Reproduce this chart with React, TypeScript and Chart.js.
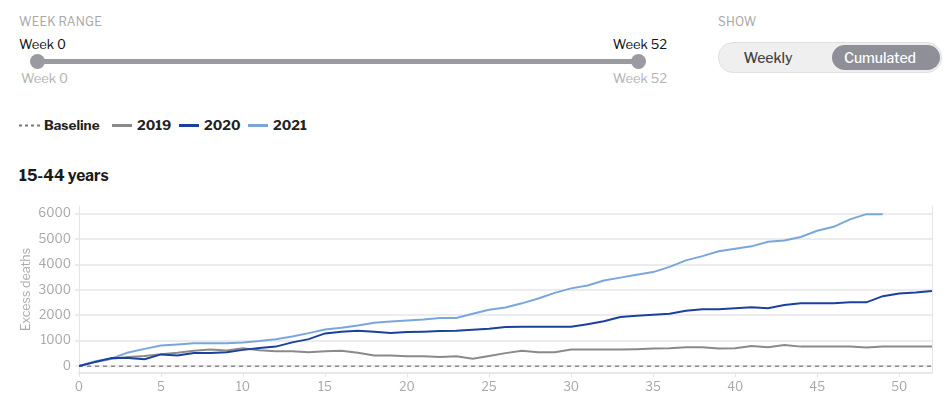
import React, { useEffect, useRef } from "react";
import { Chart, registerables } from "chart.js";

Chart.register(...registerables);

const weeks = [0,1,2,3,4,5,6,7,8,9,10,11,12,13,14,15,16,17,18,19,20,21,22,23,24,25,26,27,28,29,30,31,32,33,34,35,36,37,38,39,40,41,42,43,44,45,46,47,48,49,50,51,52];

const baseline = [0,0,0,0,0,0,0,0,0,0,0,0,0,0,0,0,0,0,0,0,0,0,0,0,0,0,0,0,0,0,0,0,0,0,0,0,0,0,0,0,0,0,0,0,0,0,0,0,0,0,0,0,0];

const y2019 = [0,167,295,359,397,470,530,610,654,615,705,628,590,590,551,590,603,526,423,423,385,385,359,385,295,397,513,603,551,551,654,654,654,654,667,692,705,744,744,692,705,795,744,833,769,769,769,769,731,769,769,769,769];

const y2020 = [0,167,320,320,270,462,423,513,513,551,641,718,769,936,1064,1290,1359,1397,1359,1308,1346,1359,1385,1397,1436,1474,1538,1551,1551,1551,1551,1654,1769,1936,1987,2026,2064,2179,2244,2244,2282,2321,2282,2410,2474,2474,2474,2513,2513,2756,2859,2897,2962];

const y2021 = [0,190,300,540,680,810,850,897,900,900,935,990,1060,1170,1300,1440,1513,1603,1705,1756,1795,1833,1897,1897,2064,2218,2308,2474,2667,2885,3064,3180,3372,3487,3603,3705,3910,4167,4333,4526,4628,4718,4897,4949,5090,5333,5487,5782,5987,5987];

const yTicks = [0, 1000, 2000, 3000, 4000, 5000, 6000];
const xTicks = [0, 5, 10, 15, 20, 25, 30, 35, 40, 45, 50];

const FONT = "'Libre Franklin', 'Noto Sans', Roboto, sans-serif";

const toPoints = (arr: number[]) => arr.map((v, i) => ({ x: weeks[i], y: v }));

const rightBorder = {
  id: "rightBorder",
  afterDraw(chart: any) {
    const { ctx, chartArea } = chart;
    ctx.save();
    ctx.strokeStyle = "#e4e4e4";
    ctx.lineWidth = 1;
    ctx.beginPath();
    ctx.moveTo(chartArea.right + 0.5, chartArea.top);
    ctx.lineTo(chartArea.right + 0.5, chartArea.bottom);
    ctx.stroke();
    ctx.restore();
  },
};

function LineChart() {
  const ref = useRef<HTMLCanvasElement>(null);
  useEffect(() => {
    if (!ref.current) return;
    const chart = new Chart(ref.current, {
      type: "line",
      data: {
        datasets: [
          { label: "2020", data: toPoints(y2020), borderColor: "#1b409d", borderWidth: 2, pointRadius: 0, tension: 0 },
          { label: "2021", data: toPoints(y2021), borderColor: "#7aa6de", borderWidth: 2, pointRadius: 0, tension: 0 },
          { label: "2019", data: toPoints(y2019), borderColor: "#8a8a8a", borderWidth: 2, pointRadius: 0, tension: 0 },
          { label: "Baseline", data: toPoints(baseline), borderColor: "#8a8a8a", borderWidth: 1.5, borderDash: [4, 4], pointRadius: 0, tension: 0 },
        ],
      },
      options: {
        animation: false,
        responsive: false,
        maintainAspectRatio: false,
        layout: { padding: { top: 7, right: 13, left: 0, bottom: 0 } },
        plugins: { legend: { display: false }, tooltip: { enabled: false } },
        scales: {
          x: {
            type: "linear",
            min: 0,
            max: 52,
            afterBuildTicks: (s: any) => { s.ticks = xTicks.map((v) => ({ value: v })); },
            afterFit: (s: any) => { s.height = 31; },
            ticks: { color: "#a8a8a8", font: { family: FONT, size: 12 }, padding: 3, maxRotation: 0, callback: (v: any) => String(v) },
            grid: { drawOnChartArea: false, drawTicks: true, tickLength: 4, color: "#e4e4e4", lineWidth: 1 },
            border: { display: true, color: "#e8e8e8", width: 2 },
          },
          y: {
            min: -270,
            max: 6300,
            afterBuildTicks: (s: any) => { s.ticks = yTicks.map((v) => ({ value: v })); },
            afterFit: (s: any) => { s.width = 79; },
            ticks: { color: "#a8a8a8", font: { family: FONT, size: 12 }, padding: 4, callback: (v: any) => String(v) },
            grid: { color: "#ececec", lineWidth: 2, drawTicks: true, tickLength: 4 },
            border: { display: true, color: "#e4e4e4", width: 1 },
            title: { display: true, text: "Excess deaths", color: "#ababab", font: { family: FONT, size: 12.5 }, padding: { top: 19, bottom: 0 } },
          },
        },
      },
      plugins: [rightBorder],
    });
    return () => chart.destroy();
  }, []);
  return <canvas ref={ref} width={945} height={209} style={{ position: "absolute", left: 0, top: 195, width: 945, height: 209 }} />;
}

const abs = (s: React.CSSProperties): React.CSSProperties => ({ position: "absolute", whiteSpace: "nowrap", ...s });

export default function App() {
  const base: React.CSSProperties = { fontFamily: FONT };
  return (
    <div style={{ position: "absolute", left: 0, top: 0, width: 950, height: 404, background: "#fff", overflow: "hidden", ...base }}>
      {/* Week range */}
      <div style={abs({ left: 19, top: 14, fontSize: 12, color: "#a9a9a9", letterSpacing: 0.2 })}>WEEK RANGE</div>
      <div style={abs({ left: 19, top: 36, fontSize: 13, color: "#111" })}>Week 0</div>
      <div style={abs({ right: 950 - 667, top: 36, fontSize: 13, color: "#111" })}>Week 52</div>
      <div style={abs({ left: 37, top: 59, width: 601, height: 5, background: "#9a9ba1", borderRadius: 2 })} />
      <div style={abs({ left: 30, top: 54, width: 15, height: 15, borderRadius: 8, background: "#9a9ba1" })} />
      <div style={abs({ left: 631, top: 54, width: 15, height: 15, borderRadius: 8, background: "#9a9ba1" })} />
      <div style={abs({ left: 21, top: 70, fontSize: 13, color: "#b3b3b3" })}>Week 0</div>
      <div style={abs({ right: 950 - 667, top: 70, fontSize: 13, color: "#b3b3b3" })}>Week 52</div>

      {/* Show toggle */}
      <div style={abs({ left: 718, top: 14, fontSize: 12, color: "#a9a9a9", letterSpacing: 0.2 })}>SHOW</div>
      <div style={abs({ left: 718, top: 42, width: 222, height: 29, borderRadius: 15, background: "#efefef", border: "1px solid #e0e0e0" })} />
      <div style={abs({ left: 832, top: 45, width: 108, height: 25, borderRadius: 13, background: "#8e8f97" })} />
      <div style={abs({ left: 718, top: 49, width: 100, textAlign: "center", fontSize: 14, fontWeight: 500, color: "#444" })}>Weekly</div>
      <div style={abs({ left: 826, top: 49, width: 108, textAlign: "center", fontSize: 14, fontWeight: 500, color: "#fff" })}>Cumulated</div>

      {/* Legend */}
      <svg style={abs({ left: 19, top: 124, width: 21, height: 3 })} width={21} height={3}>
        <line x1={0} y1={1.5} x2={21} y2={1.5} stroke="#777" strokeWidth={2} strokeDasharray="3,3" />
      </svg>
      <div style={abs({ left: 44, top: 117, fontSize: 13.5, fontWeight: 700, color: "#222" })}>Baseline</div>
      <div style={abs({ left: 112, top: 124, width: 20, height: 3, background: "#8a8a8a" })} />
      <div style={abs({ left: 137, top: 117, fontSize: 13.5, fontWeight: 700, color: "#222" })}>2019</div>
      <div style={abs({ left: 179, top: 124, width: 20, height: 3, background: "#1b409d" })} />
      <div style={abs({ left: 204, top: 117, fontSize: 13.5, fontWeight: 700, color: "#222" })}>2020</div>
      <div style={abs({ left: 248, top: 124, width: 20, height: 3, background: "#7aa6de" })} />
      <div style={abs({ left: 273, top: 117, fontSize: 13.5, fontWeight: 700, color: "#222" })}>2021</div>

      {/* Title */}
      <div style={abs({ left: 19, top: 166, fontSize: 15.5, fontWeight: 700, color: "#1a1a1a" })}>15-44 years</div>

      <LineChart />
    </div>
  );
}
